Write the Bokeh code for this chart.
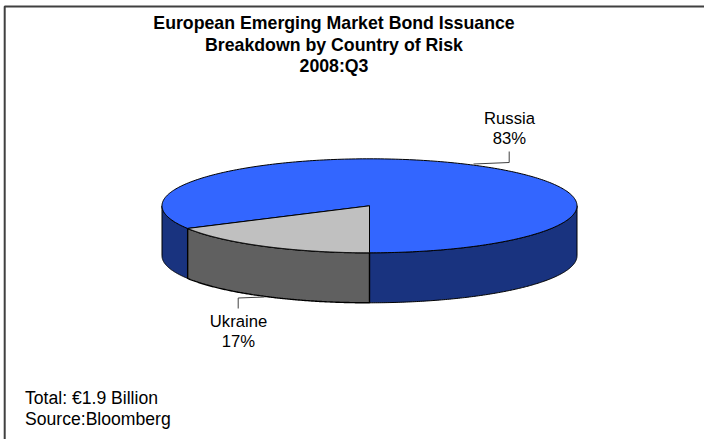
import numpy as np
from bokeh.embed import file_html
from bokeh.models import Label, Range1d
from bokeh.plotting import figure
from bokeh.resources import INLINE

# Issuance shares by country of risk (percent)
countries = ["Russia", "Ukraine"]
shares = [83, 17]
top_colors = ["#3366ff", "#c0c0c0"]
side_colors = ["#19337f", "#606060"]

title_lines = ["European Emerging Market Bond Issuance", "Breakdown by Country of Risk", "2008:Q3"]
note_lines = ["Total: €1.9 Billion", "Source:Bloomberg"]

WIDTH, HEIGHT = 704, 439
CX, CY, RX, RY, DEPTH = 369.0, 205.3, 207.5, 47.0, 50.0
FONT = "Liberation Sans"

p = figure(width=WIDTH, height=HEIGHT, output_backend="svg", toolbar_location=None,
           x_range=Range1d(0, WIDTH), y_range=Range1d(HEIGHT, 0), min_border=0)
p.axis.visible = False
p.grid.visible = False
p.outline_line_color = None
p.background_fill_color = "white"


def rim(a0, a1, n=160):
    """Points on the top ellipse; angles run clockwise from the bottom of the pie."""
    t = np.linspace(a0, a1, n)
    return CX - RX * np.sin(t), CY + RY * np.cos(t)


# Frame: only the top and left edges show inside the page
p.line([4.2, 4.2, WIDTH], [HEIGHT, 6, 6], line_color="#404040", line_width=2)

# Slice boundaries: Ukraine starts at the bottom and sweeps clockwise, Russia takes the rest
ukr_end = 2 * np.pi * shares[1] / sum(shares)
ukr = (0.0, ukr_end)
rus = (ukr_end, 2 * np.pi)

# Visible side wall of Russia, on both sides of the Ukraine wedge
for a0, a1 in [(ukr_end, np.pi / 2), (3 * np.pi / 2, 2 * np.pi)]:
    x, y = rim(a0, a1)
    p.patch(np.r_[x, x[::-1]], np.r_[y, (y + DEPTH)[::-1]],
            fill_color=side_colors[0], line_color="black", line_width=1)

# Side wall of Ukraine
x, y = rim(*ukr)
p.patch(np.r_[x, x[::-1]], np.r_[y, (y + DEPTH)[::-1]],
        fill_color=side_colors[1], line_color="black", line_width=1.4)

# Top faces
for (a0, a1), color in [(rus, top_colors[0]), (ukr, top_colors[1])]:
    x, y = rim(a0, a1, 300)
    p.patch(np.r_[CX, x], np.r_[CY, y], fill_color=color, line_color="black", line_width=1)

# Leader lines
p.line([473, 508.7, 508.7], [163.5, 162, 151], line_color="#404040", line_width=1)
p.line([264, 237.7, 237.7], [296.5, 297.5, 308], line_color="#404040", line_width=1)


def text(x, y, s, bold=False, size="11pt", align="center"):
    p.add_layout(Label(x=x, y=y, text=s, text_font=FONT, text_font_size=size,
                       text_font_style="bold" if bold else "normal",
                       text_color="black", text_align=align, text_baseline="middle"))


# Title block
for y, line in zip([22.7, 44.3, 65.7], title_lines):
    text(333.5, y, line, bold=True, size="13.3pt")

# Slice labels
text(509, 117.5, countries[0], size="12.5pt")
text(509, 137.8, f"{shares[0]}%", size="12.5pt")
text(238, 320.8, countries[1], size="12.5pt")
text(238, 340.8, f"{shares[1]}%", size="12.5pt")

# Footnotes
for y, line in zip([397.7, 418.3], note_lines):
    text(24.5, y, line, align="left", size="13.2pt")

open("out.html", "w").write(file_html(p, INLINE))
